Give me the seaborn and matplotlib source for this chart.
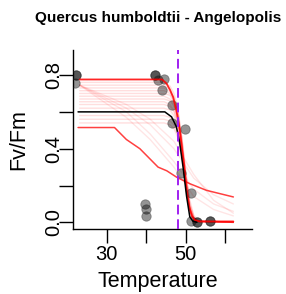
import matplotlib
matplotlib.use("Agg")
import matplotlib.pyplot as plt
import seaborn as sns
import pandas as pd
import numpy as np

# ---------------- data ----------------
title = "Quercus humboldtii - Angelopolis"
x_label = "Temperature"
y_label = "Fv/Fm"
x_ticks = [30, 40, 50, 60]
x_tick_labels = ["30", "", "50", ""]
y_ticks = [0.0, 0.2, 0.4, 0.6, 0.8]
y_tick_labels = ["0.0", "", "0.4", "", "0.8"]
t50 = 47.9

# observations
obs_temp = [22.2, 22.2, 22.1, 42.2, 42.2, 43.0, 44.4, 43.9, 46.5, 46.4, 49.75,
            48.9, 51.4, 51.4, 52.7, 52.7, 56.1, 56.1, 39.6, 39.9, 39.9]
obs_fvfm = [0.80, 0.80, 0.757, 0.80, 0.80, 0.775, 0.78, 0.72, 0.64, 0.54, 0.505,
            0.27, 0.16, 0.005, 0.0, 0.0, 0.005, 0.005, 0.10, 0.075, 0.033]

# main fitted curve (red)
fit_temp = [23.2, 44.0, 45.1, 46.0, 46.8, 47.6, 48.5, 49.0, 49.5, 50.2, 50.8, 51.5, 52.3, 53.5, 62.0]
fit_fvfm = [0.776, 0.776, 0.755, 0.72, 0.68, 0.61, 0.50, 0.40, 0.32, 0.17, 0.09, 0.035, 0.012, 0.005, 0.005]

# mean curve (black)
mean_temp = [22.8, 44.7, 46.4, 47.6, 48.4, 49.3, 50.2, 51.0, 51.8, 52.8]
mean_fvfm = [0.60, 0.60, 0.573, 0.52, 0.44, 0.30, 0.14, 0.03, 0.006, 0.0]

# lower fitted curve (red)
low_temp = [22.8, 32.0, 35.0, 38.4, 41.3, 43.0, 45.2, 47.7, 51.0, 55.2, 62.0]
low_fvfm = [0.515, 0.515, 0.45, 0.40, 0.337, 0.30, 0.28, 0.245, 0.21, 0.174, 0.138]

# bootstrap curves: plateau then steep drop
boot_temp = [23.2, 44.5, 46.0, 47.0, 48.0, 49.0, 50.0, 51.0, 52.0, 53.0, 62.0]
boot_1 = [0.760, 0.760, 0.74, 0.70, 0.62, 0.45, 0.24, 0.08, 0.02, 0.005, 0.0]
boot_2 = [0.745, 0.745, 0.72, 0.68, 0.60, 0.42, 0.20, 0.06, 0.015, 0.004, 0.0]
boot_3 = [0.730, 0.730, 0.71, 0.67, 0.60, 0.46, 0.26, 0.10, 0.03, 0.01, 0.0]
boot_4 = [0.715, 0.715, 0.70, 0.66, 0.58, 0.43, 0.22, 0.07, 0.02, 0.005, 0.0]
boot_5 = [0.700, 0.700, 0.69, 0.65, 0.58, 0.46, 0.28, 0.12, 0.04, 0.01, 0.0]
boot_6 = [0.685, 0.685, 0.67, 0.64, 0.56, 0.42, 0.22, 0.07, 0.02, 0.005, 0.0]
boot_7 = [0.670, 0.670, 0.66, 0.63, 0.56, 0.44, 0.26, 0.10, 0.03, 0.01, 0.0]
boot_8 = [0.655, 0.655, 0.64, 0.61, 0.54, 0.40, 0.21, 0.06, 0.015, 0.004, 0.0]
boot_9 = [0.640, 0.640, 0.63, 0.60, 0.54, 0.42, 0.25, 0.09, 0.025, 0.006, 0.0]
boot_10 = [0.620, 0.620, 0.61, 0.58, 0.52, 0.40, 0.22, 0.07, 0.02, 0.005, 0.0]
boot_11 = [0.580, 0.580, 0.57, 0.55, 0.50, 0.39, 0.22, 0.08, 0.02, 0.005, 0.0]
boot_12 = [0.560, 0.560, 0.55, 0.53, 0.48, 0.38, 0.21, 0.07, 0.02, 0.005, 0.0]
boot_13 = [0.540, 0.540, 0.53, 0.51, 0.46, 0.36, 0.20, 0.07, 0.02, 0.005, 0.0]

# bootstrap curves: gradual decline
diag_temp = [23.2, 35.0, 41.0, 47.0, 52.0, 57.0, 62.0]
diag_1 = [0.745, 0.62, 0.53, 0.40, 0.24, 0.15, 0.10]
diag_2 = [0.745, 0.60, 0.48, 0.33, 0.18, 0.10, 0.06]
diag_3 = [0.745, 0.57, 0.45, 0.30, 0.14, 0.07, 0.035]
diag_4 = [0.745, 0.64, 0.56, 0.44, 0.26, 0.12, 0.05]

# ---------------- figure ----------------
sns.set_theme(style="white")
plt.rcParams["font.family"] = ["Liberation Sans", "DejaVu Sans"]

W, H = 286, 294
fig = plt.figure(figsize=(W / 100, H / 100), dpi=100)
ax = fig.add_axes([72.5 / W, 1 - 229 / H, (252 - 72.5) / W, (229 - 50) / H])

red = "#FF0000"

for ys in [boot_1, boot_2, boot_3, boot_4, boot_5, boot_6, boot_7, boot_8, boot_9,
           boot_10, boot_11, boot_12, boot_13]:
    sns.lineplot(x=boot_temp, y=ys, ax=ax, color=red, alpha=0.13, lw=1.0,
                 estimator=None, sort=False, zorder=2)
for ys in [diag_1, diag_2, diag_3, diag_4]:
    sns.lineplot(x=diag_temp, y=ys, ax=ax, color=red, alpha=0.10, lw=1.0,
                 estimator=None, sort=False, zorder=2)

sns.lineplot(x=low_temp, y=low_fvfm, ax=ax, color=red, alpha=0.75, lw=1.1,
             estimator=None, sort=False, zorder=3)

sns.scatterplot(x=obs_temp, y=obs_fvfm, ax=ax, color="black", alpha=0.42, s=46,
                edgecolor="#222222", linewidth=0.6, zorder=4)

sns.lineplot(x=fit_temp, y=fit_fvfm, ax=ax, color=red, alpha=0.85, lw=1.3,
             estimator=None, sort=False, zorder=5)
sns.lineplot(x=mean_temp, y=mean_fvfm, ax=ax, color="black", lw=1.1,
             estimator=None, sort=False, zorder=6)

ax.axvline(t50, color="#A020F0", lw=1.4, dashes=(5, 2.5), zorder=7)

ax.set_xlim(21.4, 66.7)
ax.set_ylim(-0.036, 0.936)

ax.set_xticks(x_ticks)
ax.set_xticklabels(x_tick_labels, fontsize=14.5)
ax.set_yticks(y_ticks)
ax.set_yticklabels(y_tick_labels, fontsize=14.5, rotation=90, va="center")
ax.tick_params(axis="both", direction="out", length=10, width=1.0, color="black",
               left=True, bottom=True, labelcolor="black")
ax.tick_params(axis="x", pad=1.5)
ax.tick_params(axis="y", pad=-3.5)

for side in ["top", "right"]:
    ax.spines[side].set_visible(False)
for side in ["left", "bottom"]:
    ax.spines[side].set_visible(True)
    ax.spines[side].set_color("black")
    ax.spines[side].set_linewidth(1.0)

ax.set_xlabel(x_label, fontsize=15.5, color="black")
ax.set_ylabel(y_label, fontsize=15.5, color="black")
ax.xaxis.set_label_coords((158 - 72.5) / (252 - 72.5), (229 - 281) / (229 - 50))
ax.yaxis.set_label_coords((18.5 - 72.5) / (252 - 72.5), 0.5)
ax.xaxis.label.set_va("center")
ax.yaxis.label.set_va("center")

fig.text(158.5 / W, 1 - 18 / H, title, fontsize=11, fontweight="bold",
         ha="center", va="center", color="black")

fig.savefig("out.png", dpi=100)
